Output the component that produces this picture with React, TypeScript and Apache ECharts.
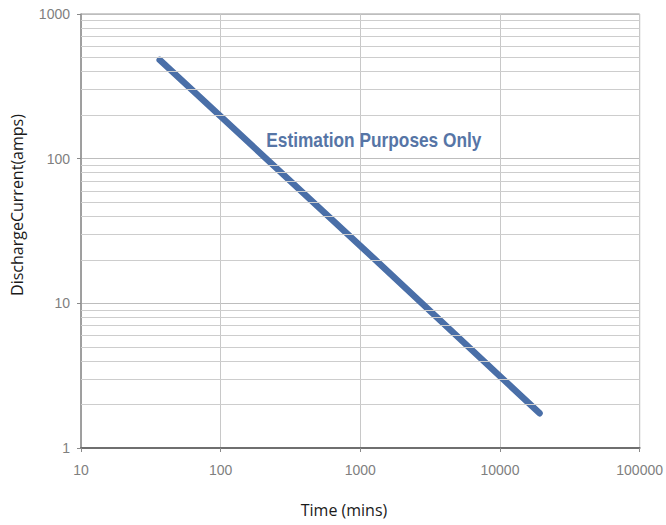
import React, { useEffect, useRef } from "react";
import * as echarts from "echarts";

const timeMins = [36.6, 1000, 19200];
const currentAmps = [481, 25, 1.74];
const minorGridValues = [2, 3, 4, 5, 6, 7, 8, 9, 20, 30, 40, 50, 60, 70, 80, 90, 200, 300, 400, 500, 600, 700, 800, 900];
const annotation = { text: "Estimation Purposes Only", x: 1250, y: 135 };
const xAxisTitle = "Time (mins)";
const yAxisTitle = "DischargeCurrent(amps)";

export default function App() {
  const ref = useRef<HTMLDivElement>(null);
  useEffect(() => {
    if (!ref.current) return;
    const chart = echarts.init(ref.current, undefined, { renderer: "svg" });
    const lineData = timeMins.map((t, i) => [t, currentAmps[i]]);
    const labelFont = "'Liberation Sans', Arial, sans-serif";
    chart.setOption({
      animation: false,
      backgroundColor: "#ffffff",
      grid: {
        left: 81,
        right: 24,
        top: 14,
        bottom: 77,
        show: true,
        borderColor: "#9a9a9a",
        borderWidth: 1,
      },
      xAxis: {
        type: "log",
        logBase: 10,
        min: 10,
        max: 100000,
        axisLine: { show: true, lineStyle: { color: "#6f6f6f", width: 2 } },
        axisTick: { show: true, length: 4, lineStyle: { color: "#8a8a8a" } },
        axisLabel: {
          margin: 15,
          fontFamily: labelFont,
          fontSize: 14,
          color: "#7f7f7f",
          formatter: (v: number) => String(Math.round(v)),
        },
        splitLine: { show: true, lineStyle: { color: "#c8c8c8", width: 1 } },
      },
      yAxis: {
        type: "log",
        logBase: 10,
        min: 1,
        max: 1000,
        axisLine: { show: true, lineStyle: { color: "#909090", width: 1.5 } },
        axisTick: { show: true, length: 4, lineStyle: { color: "#8a8a8a" } },
        axisLabel: {
          margin: 11,
          fontFamily: labelFont,
          fontSize: 14,
          color: "#7f7f7f",
          formatter: (v: number) => String(Math.round(v)),
        },
        splitLine: { show: true, lineStyle: { color: "#bdbdbd", width: 1 } },
      },
      series: [
        {
          type: "line",
          data: [],
          z: 1,
          silent: true,
          markLine: {
            silent: true,
            symbol: ["none", "none"],
            label: { show: false },
            lineStyle: { color: "#cdcdcd", width: 1, type: "solid" },
            data: minorGridValues.map((v) => ({ yAxis: v })),
          },
        },
        {
          type: "line",
          z: 3,
          data: lineData,
          showSymbol: false,
          symbol: "none",
          lineStyle: { color: "#4A6FA8", width: 6.5, cap: "round" },
        },
      ],
    });
    const p = chart.convertToPixel({ gridIndex: 0 }, [annotation.x, annotation.y]) as number[];
    chart.setOption({
      graphic: [
        {
          type: "text",
          x: 344,
          y: 510,
          style: {
            text: xAxisTitle,
            fontFamily: "'Open Sans', sans-serif",
            fontSize: 16,
            fill: "#1a1a1a",
            align: "center",
            verticalAlign: "middle",
          },
        },
        {
          type: "text",
          x: 17,
          y: 205,
          rotation: Math.PI / 2,
          style: {
            text: yAxisTitle,
            fontFamily: "'Open Sans', sans-serif",
            fontSize: 16,
            fill: "#1a1a1a",
            align: "center",
            verticalAlign: "middle",
          },
        },
        {
          type: "text",
          x: p[0],
          y: p[1],
          scaleX: 0.865,
          z: 10,
          style: {
            text: annotation.text,
            fontFamily: "'Liberation Sans', Arial, sans-serif",
            fontWeight: "bold",
            fontSize: 20,
            fill: "#5675A6",
            align: "center",
            verticalAlign: "middle",
          },
        },
      ],
    });
    return () => chart.dispose();
  }, []);
  return <div ref={ref} style={{ width: 666, height: 525, position: "absolute", left: 0, top: 0 }} />;
}
